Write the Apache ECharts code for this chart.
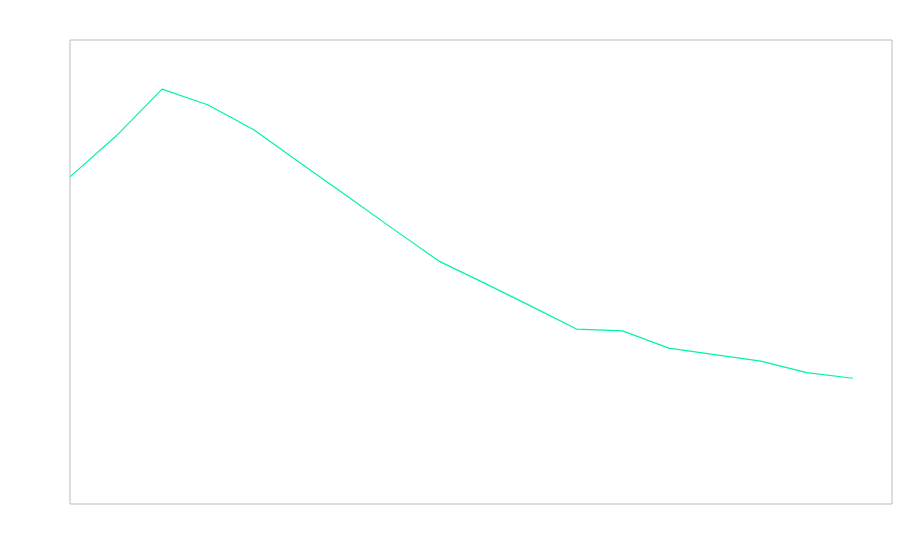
<!DOCTYPE html>
<html>
<head>
<meta charset="utf-8">
<script src="https://cdn.jsdelivr.net/npm/echarts@6/dist/echarts.min.js"></script>
<style>html,body{margin:0;padding:0;background:#fff;}#c{width:900px;height:560px;}</style>
</head>
<body>
<div id="c"></div>
<script>
var xIndex = [0,1,2,3,4,5,6,7,8,9,10,11,12,13,14,15,16,17];
var values = [70.5,79.3,89.4,86.0,80.6,73.5,66.5,59.4,52.4,47.6,42.7,37.7,37.3,33.6,32.2,30.8,28.3,27.1];

var chart = echarts.init(document.getElementById('c'), null, {renderer: 'canvas'});
chart.setOption({
  animation: false,
  backgroundColor: '#fff',
  grid: {left: 70, right: 8, top: 40, bottom: 56, show: true, borderColor: '#bbbbbb', borderWidth: 1, backgroundColor: 'transparent'},
  xAxis: {type: 'value', min: 0, max: 17.85, show: false},
  yAxis: {type: 'value', min: 0, max: 100, show: false},
  series: [{
    type: 'line',
    data: xIndex.map(function (x, i) { return [x, values[i]]; }),
    showSymbol: false,
    lineStyle: {color: '#00f59c', width: 1.2},
    itemStyle: {color: '#00f59c'}
  }]
});
</script>
</body>
</html>
